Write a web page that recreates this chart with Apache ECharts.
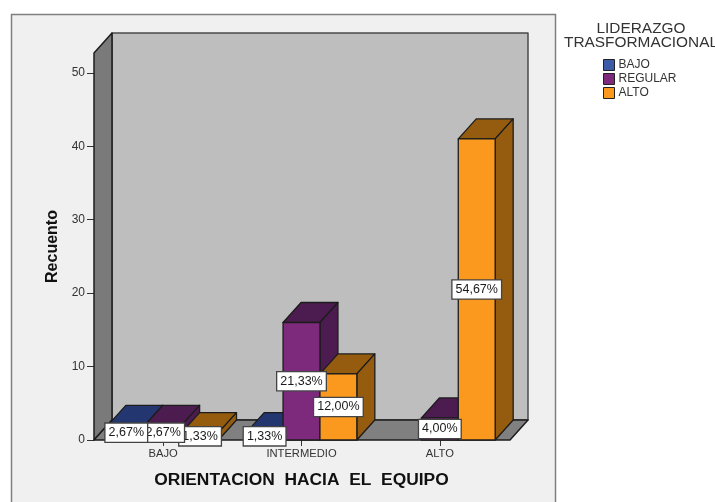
<!DOCTYPE html>
<html>
<head>
<meta charset="utf-8">
<style>html,body{margin:0;padding:0;background:#fff}#c{width:715px;height:502px}</style>
<script src="https://cdn.jsdelivr.net/npm/echarts@6/dist/echarts.min.js"></script>
</head>
<body>
<div id="c"></div>
<script>
const categories = ['BAJO', 'INTERMEDIO', 'ALTO'];
const seriesNames = ['BAJO', 'REGULAR', 'ALTO'];
const bajo = [2, 1, 0];
const regular = [2, 16, 3];
const alto = [1, 9, 41];
const labelsBajo = ['2,67%', '1,33%', ''];
const labelsRegular = ['2,67%', '21,33%', '4,00%'];
const labelsAlto = ['1,33%', '12,00%', '54,67%'];
const frontColors = ['#2F4B9B', '#7D2A7D', '#FB981E'];
const darkColors = ['#233670', '#4C1B4F', '#955C10'];
const yTicks = [0, 10, 20, 30, 40, 50];
const yMax = 52.7;

const FONT = '"Liberation Sans", Arial, sans-serif';
const INK = '#1c1c1c';
const DX = 18, DY = -20;
const values = [bajo, regular, alto];
const labelSets = [labelsBajo, labelsRegular, labelsAlto];

function wallsItem(params, api) {
  const cs = params.coordSys;
  const x0 = cs.x, x1 = cs.x + cs.width + 1, y0 = cs.y + cs.height;
  const top = cs.y;
  const line = { stroke: INK, lineWidth: 1.5, lineJoin: 'round' };
  return {
    type: 'group',
    children: [
      { type: 'polygon', shape: { points: [[x0 + DX, top + DY], [x1 + DX, top + DY], [x1 + DX, y0 + DY], [x0 + DX, y0 + DY]] },
        style: Object.assign({ fill: '#BEBEBE' }, line, { stroke: '#4a4a4a' }) },
      { type: 'polygon', shape: { points: [[x0, top], [x0 + DX, top + DY], [x0 + DX, y0 + DY], [x0, y0]] },
        style: Object.assign({ fill: '#7A7A7A' }, line) },
      { type: 'polygon', shape: { points: [[x0, y0], [x0 + DX, y0 + DY], [x1 + DX, y0 + DY], [x1, y0]] },
        style: Object.assign({ fill: '#808080' }, line) }
    ]
  };
}

function barItem(idx) {
  return function (params, api) {
    const cat = api.value(0), val = api.value(1);
    if (!val) return null;
    const band = api.size([1, 0])[0];
    const w = band * 0.8 / 3;
    const c = api.coord([cat, val]);
    const base = api.coord([cat, 0])[1];
    const l = c[0] + (idx - 1.5) * w, r = l + w, t = c[1];
    const stroke = { stroke: INK, lineWidth: 1.3, lineJoin: 'round' };
    return {
      type: 'group',
      children: [
        { type: 'polygon', z2: idx, shape: { points: [[l, t], [l + DX, t + DY], [r + DX, t + DY], [r, t]] },
          style: Object.assign({ fill: darkColors[idx] }, stroke) },
        { type: 'polygon', z2: idx, shape: { points: [[r, t], [r + DX, t + DY], [r + DX, base + DY], [r, base]] },
          style: Object.assign({ fill: darkColors[idx] }, stroke) },
        { type: 'rect', z2: idx, shape: { x: l, y: t, width: w, height: base - t },
          style: Object.assign({ fill: frontColors[idx] }, stroke) },
        { type: 'text', z2: 20 - idx, x: (l + r) / 2, y: (t + base) / 2,
          style: { text: labelSets[idx][cat], align: 'center', verticalAlign: 'middle', fill: '#1a1a1a',
            font: '12.5px ' + FONT, backgroundColor: '#fff', borderColor: '#444', borderWidth: 1.3,
            padding: [3, 3, 2, 3], boxShadowColor: 'rgba(0,0,0,0.45)', boxShadowBlur: 1, boxShadowOffsetX: 1, boxShadowOffsetY: 1 } }
      ]
    };
  };
}

const chart = echarts.init(document.getElementById('c'), null, { renderer: 'canvas' });
chart.setOption({
  animation: false,
  backgroundColor: '#fff',
  graphic: [{ type: 'rect', z: -10, silent: true, shape: { x: 11.5, y: 14.5, width: 544, height: 500 },
    style: { fill: '#F0F0F0', stroke: '#7f7f7f', lineWidth: 1.5 } }],
  title: {
    text: 'LIDERAZGO\nTRASFORMACIONAL', left: 636, top: 17, textAlign: 'center',
    textStyle: { fontFamily: FONT, fontSize: 15.4, fontWeight: 'normal', color: '#333', lineHeight: 14 }
  },
  legend: {
    data: seriesNames, orient: 'vertical', left: 603, top: 59, itemWidth: 11, itemHeight: 11, itemGap: 2,
    icon: 'rect', selectedMode: false, padding: 0,
    itemStyle: { borderColor: '#222', borderWidth: 1 },
    textStyle: { fontFamily: FONT, fontSize: 12, color: '#333', padding: [0, 0, 0, -1] }
  },
  grid: { left: 94, right: 206, top: 53, bottom: 62 },
  xAxis: {
    type: 'category', data: categories,
    name: 'ORIENTACION  HACIA  EL  EQUIPO', nameLocation: 'middle', nameGap: 32,
    nameTextStyle: { fontFamily: FONT, fontSize: 17.4, fontWeight: 'bold', color: '#111' },
    axisLine: { show: false },
    axisTick: { show: true, alignWithLabel: true, length: 6, lineStyle: { color: '#333' } },
    axisLabel: { fontFamily: FONT, fontSize: 11.2, color: '#333', margin: 8, interval: 0 }
  },
  yAxis: {
    type: 'value', min: 0, max: yMax,
    name: 'Recuento', nameLocation: 'middle', nameGap: 32, nameRotate: 90,
    nameTextStyle: { fontFamily: FONT, fontSize: 16, fontWeight: 'bold', color: '#111' },
    axisLine: { show: false },
    axisTick: { show: true, length: 7, customValues: yTicks, lineStyle: { color: '#333' } },
    splitLine: { show: false },
    axisLabel: { fontFamily: FONT, fontSize: 12, color: '#333', margin: 9, customValues: yTicks }
  },
  series: [
    { type: 'custom', name: 'walls', z: 1, silent: true, renderItem: wallsItem, data: [[0, 0]], encode: { x: 0, y: 1 } }
  ].concat(seriesNames.map((name, i) => ({
    type: 'custom', name, z: 2, silent: true,
    itemStyle: { color: i === 0 ? '#3B5BA8' : frontColors[i] },
    renderItem: barItem(i),
    encode: { x: 0, y: 1 },
    data: values[i].map((v, c) => [c, v])
  })))
});
</script>
</body>
</html>
